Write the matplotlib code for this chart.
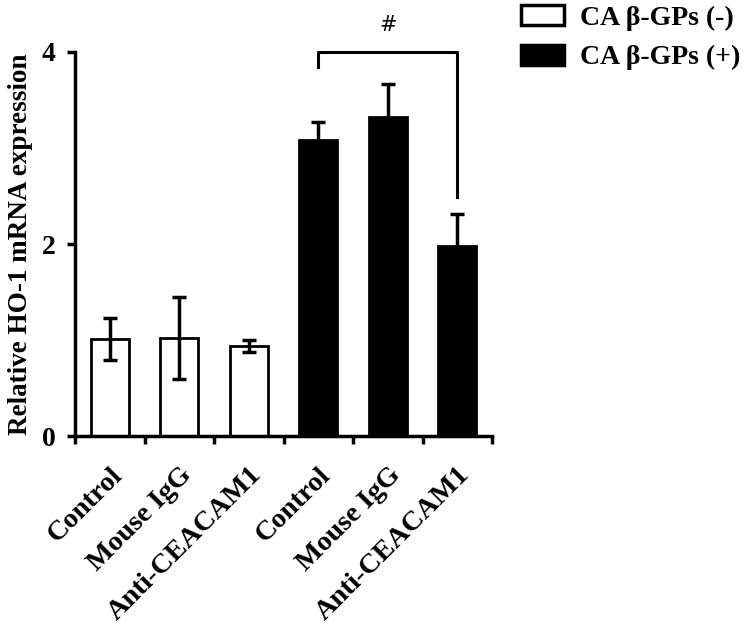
import matplotlib.pyplot as plt
from matplotlib.patches import Patch

plt.rcParams['font.family'] = ['Liberation Serif', 'DejaVu Serif']
plt.rcParams['font.weight'] = 'bold'

labels = ["Control", "Mouse IgG", "Anti-CEACAM1",
          "Control", "Mouse IgG", "Anti-CEACAM1"]
values = [1.01, 1.02, 0.94, 3.08, 3.32, 1.98]
errors = [0.22, 0.43, 0.06, 0.19, 0.35, 0.33]
colors = ["white", "white", "white", "black", "black", "black"]
legend_labels = ["CA β-GPs (-)", "CA β-GPs (+)"]


def main():
    fig = plt.figure(figsize=(7.5, 6.31), dpi=100)
    ax = fig.add_axes([0.1, 0.309, 0.556, 0.6086])

    x = list(range(len(values)))
    ax.bar(x, values, width=0.55, color=colors, edgecolor="black", linewidth=2)
    ax.errorbar(x, values, yerr=errors, fmt="none", ecolor="black",
                elinewidth=2.5, capsize=5, capthick=2.5)

    ax.set_xlim(-0.5, 5.5)
    ax.set_ylim(0, 4)
    ax.set_yticks([0, 2, 4])
    ax.set_yticklabels(["0", "2", "4"], fontsize=20, fontweight="bold")
    ax.set_xticks([i - 0.5 for i in range(len(values) + 1)])
    ax.set_xticklabels([])
    ax.set_xticks(x, minor=True)
    ax.set_xticklabels(labels, minor=True, rotation=45, ha="right",
                       rotation_mode="anchor", fontsize=20.5, fontweight="bold")
    ax.tick_params(axis="x", which="minor", length=0, pad=19)
    ax.tick_params(axis="both", which="major", direction="out", length=6,
                   width=2.5)
    ax.tick_params(axis="y", pad=8)

    for s in ["top", "right"]:
        ax.spines[s].set_visible(False)
    for s in ["left", "bottom"]:
        ax.spines[s].set_linewidth(2.5)

    ax.set_ylabel("Relative HO-1 mRNA expression", fontsize=19.5,
                  fontweight="bold", labelpad=6)

    # significance bracket
    ax.plot([3, 3, 5, 5], [3.84, 4.0, 4.0, 2.49], color="black", lw=2.2,
            clip_on=False)
    ax.text(4, 4.18, "#", ha="center", va="bottom", fontsize=15,
            fontweight="normal", family="DejaVu Sans")

    handles = [Patch(facecolor="white", edgecolor="black", linewidth=2.5),
               Patch(facecolor="black", edgecolor="black", linewidth=2.5)]
    fig.legend(handles, legend_labels, loc="upper right",
               bbox_to_anchor=(1.02, 1.032), frameon=False,
               prop={"size": 20, "weight": "bold"},
               handlelength=1.55, handleheight=0.75, labelspacing=0.5,
               handletextpad=0.55)

    fig.savefig("out.png", dpi=100)


if __name__ == "__main__":
    main()
